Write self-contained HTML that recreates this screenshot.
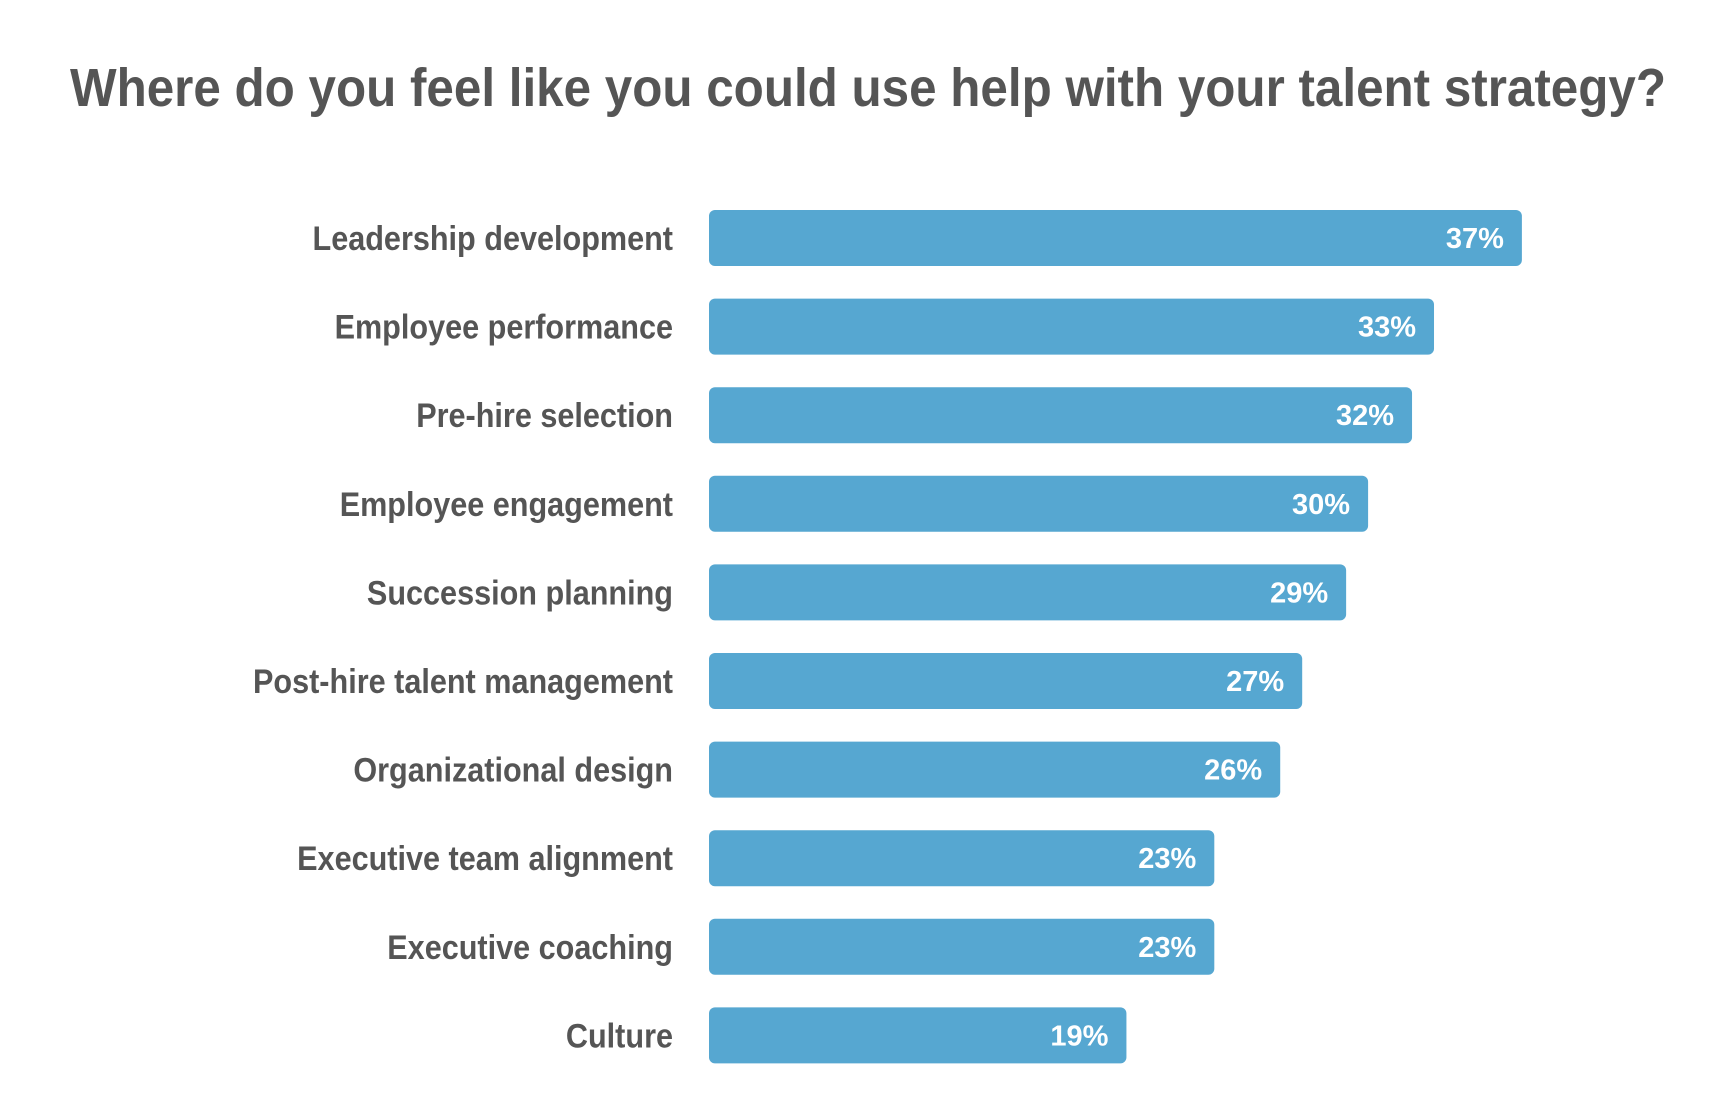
<!DOCTYPE html>
<html><head><meta charset="utf-8"><style>
html,body{margin:0;padding:0;background:#fff;}
svg{display:block;font-family:"Liberation Sans",sans-serif;}
</style></head><body>
<svg id="chart" width="1736" height="1114" viewBox="0 0 1736 1114" xmlns="http://www.w3.org/2000/svg">
<text x="70" y="106" font-size="54" font-weight="bold" fill="#555" textLength="1596" lengthAdjust="spacingAndGlyphs">Where do you feel like you could use help with your talent strategy?</text>
<g id="bars"></g>
</svg>
<script>
const categories = ["Leadership development","Employee performance","Pre-hire selection","Employee engagement","Succession planning","Post-hire talent management","Organizational design","Executive team alignment","Executive coaching","Culture"];
const values = [37,33,32,30,29,27,26,23,23,19];
const valueLabels = ["37%","33%","32%","30%","29%","27%","26%","23%","23%","19%"];

const x0 = 709, pxPerPct = 21.97;
const xScale = v => x0 + v * pxPerPct;
const yTop0 = 210, pitch = 88.6, barH = 56;
const yScale = i => yTop0 + i * pitch;
const ns = "http://www.w3.org/2000/svg";
const g = document.getElementById("bars");
categories.forEach((c, i) => {
  const y = yScale(i);
  const r = document.createElementNS(ns, "rect");
  
  
  r.setAttribute("x", x0); r.setAttribute("y", y);
  r.setAttribute("width", xScale(values[i]) - x0); r.setAttribute("height", barH);
  r.setAttribute("rx", 6); r.setAttribute("fill", "#56a7d1");
  g.appendChild(r);
  const t = document.createElementNS(ns, "text");
  
  
  t.setAttribute("x", 673); t.setAttribute("y", y + barH / 2 + 12);
  t.setAttribute("text-anchor", "end"); t.setAttribute("font-size", "34");
  t.setAttribute("font-weight", "bold"); t.setAttribute("fill", "#555");
  t.textContent = c;
  g.appendChild(t);
  const w = t.getComputedTextLength();
  t.setAttribute("textLength", w * 0.9); t.setAttribute("lengthAdjust", "spacingAndGlyphs");
  const v = document.createElementNS(ns, "text");
  
  
  v.setAttribute("x", xScale(values[i]) - 18); v.setAttribute("y", y + barH / 2 + 10);
  v.setAttribute("text-anchor", "end"); v.setAttribute("font-size", "29");
  v.setAttribute("font-weight", "bold"); v.setAttribute("fill", "#fff");
  v.textContent = valueLabels[i];
  g.appendChild(v);
});
</script>
</body></html>
